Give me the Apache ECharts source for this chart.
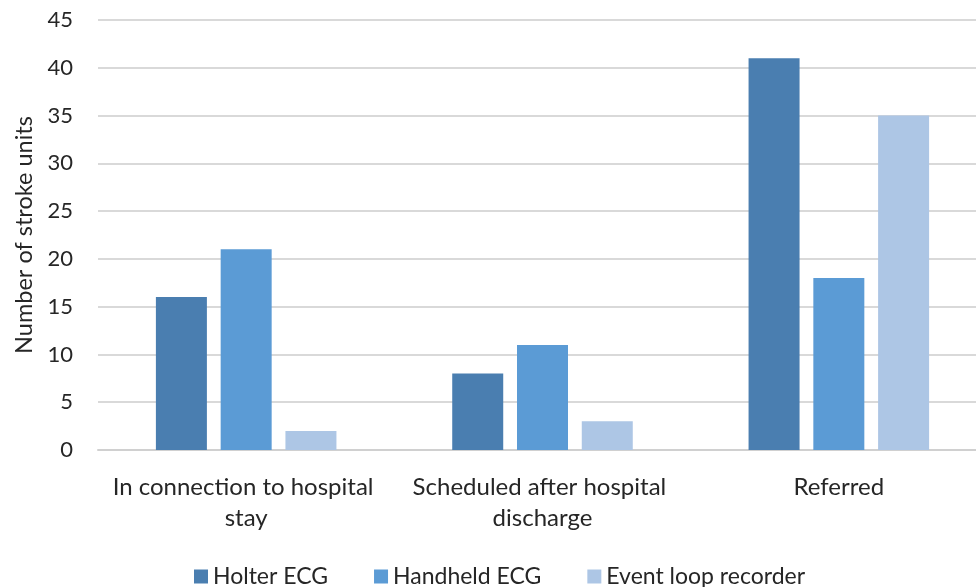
<!DOCTYPE html>
<html><head><meta charset="utf-8">
<script src="https://cdn.jsdelivr.net/npm/echarts@6/dist/echarts.min.js"></script>
<style>html,body{margin:0;padding:0;background:#fff;overflow:hidden}#c{width:987px;height:587px}</style>
</head><body><div id="c"></div>
<script>
const categories = ["In connection to hospital stay", "Scheduled after hospital discharge", "Referred"];
const holter = [16, 8, 41];
const handheld = [21, 11, 18];
const eventLoop = [2, 3, 35];
const seriesNames = ["Holter ECG", "Handheld ECG", "Event loop recorder"];
const yTicks = {min: 0, max: 45, interval: 5};

const font = "Lato, Carlito, Calibri, sans-serif";
const chart = echarts.init(document.getElementById('c'));
const colors = ["#4a7eb0", "#5b9bd5", "#adc6e5"];
chart.setOption({
  animation: false,
  textStyle: {fontFamily: font},
  grid: {left: 98, right: 0, top: 20, height: 430, containLabel: false},
  legend: {
    top: 560, left: 189, itemWidth: 14, itemHeight: 14, itemGap: 46,
    icon: 'rect',
    textStyle: {fontSize: 23, color: '#262626', fontFamily: font},
    data: seriesNames
  },
  xAxis: {
    type: 'category', data: categories,
    axisLine: {lineStyle: {color: '#d0d0d0', width: 2}},
    axisTick: {show: false},
    axisLabel: {fontSize: 24, color: '#262626', fontFamily: font, width: 288, overflow: 'break', lineHeight: 31, margin: 22, interval: 0}
  },
  yAxis: {
    type: 'value', min: yTicks.min, max: yTicks.max, interval: yTicks.interval,
    name: 'Number of stroke units', nameLocation: 'middle', nameGap: 62,
    nameTextStyle: {fontSize: 23.5, color: '#262626', fontFamily: font},
    axisLine: {show: false}, axisTick: {show: false},
    axisLabel: {fontSize: 22, color: '#262626', fontFamily: font, margin: 25},
    splitLine: {lineStyle: {color: '#d9d9d9', width: 2}}
  },
  series: [
    {name: seriesNames[0], type: 'bar', data: holter, barWidth: 51, barGap: '27%', itemStyle: {color: colors[0]}},
    {name: seriesNames[1], type: 'bar', data: handheld, barWidth: 51, barGap: '27%', itemStyle: {color: colors[1]}},
    {name: seriesNames[2], type: 'bar', data: eventLoop, barWidth: 51, barGap: '27%', itemStyle: {color: colors[2]}}
  ]
});
</script></body></html>
